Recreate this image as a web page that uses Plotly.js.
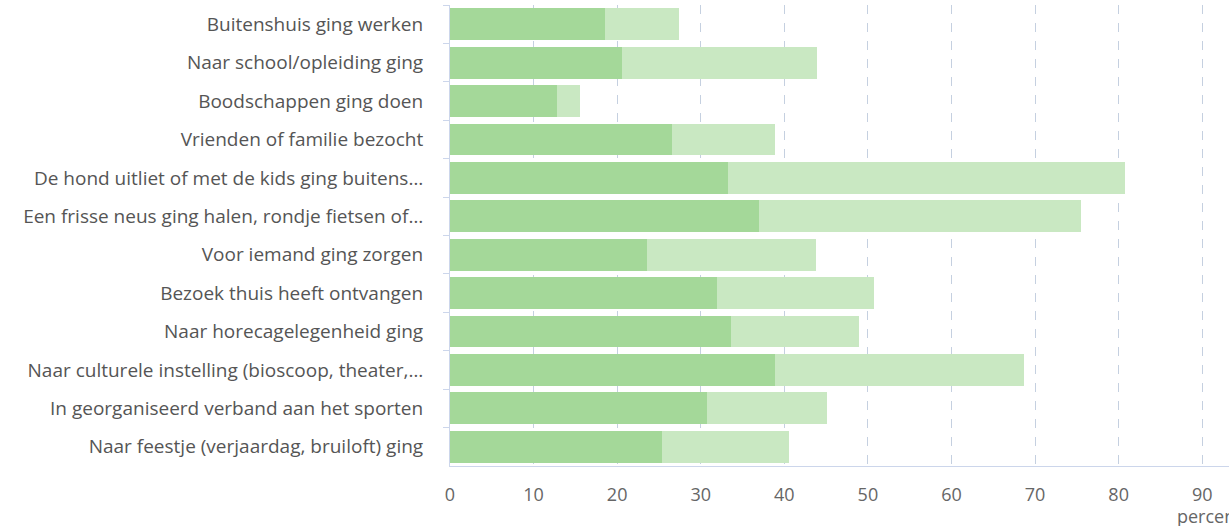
<!DOCTYPE html>
<html>
<head>
<meta charset="utf-8">
<script src="https://cdn.plot.ly/plotly-3.0.1.min.js"></script>
<style>html,body{margin:0;padding:0;background:#fff;}#chart{width:1229px;height:526px;}</style>
</head>
<body>
<div id="chart"></div>
<script>
const categories = [
  "Buitenshuis ging werken",
  "Naar school/opleiding ging",
  "Boodschappen ging doen",
  "Vrienden of familie bezocht",
  "De hond uitliet of met de kids ging buitens…",
  "Een frisse neus ging halen, rondje fietsen of…",
  "Voor iemand ging zorgen",
  "Bezoek thuis heeft ontvangen",
  "Naar horecagelegenheid ging",
  "Naar culturele instelling (bioscoop, theater,…",
  "In georganiseerd verband aan het sporten",
  "Naar feestje (verjaardag, bruiloft) ging"
];
const seriesDark = [18.6, 20.6, 12.8, 26.6, 33.2, 37.0, 23.6, 32.0, 33.6, 38.9, 30.8, 25.4];
const seriesLight = [8.8, 23.3, 2.8, 12.3, 47.5, 38.5, 20.2, 18.7, 15.3, 29.8, 14.3, 15.1];
const xTicks = [0, 10, 20, 30, 40, 50, 60, 70, 80, 90];

const fontFam = '"Open Sans", "DejaVu Sans", sans-serif';

const traces = [
  {type: 'bar', orientation: 'h', y: categories, x: seriesDark, marker: {color: '#a4d899'}, hoverinfo: 'x+y', name: 'a'},
  {type: 'bar', orientation: 'h', y: categories, x: seriesLight, marker: {color: '#c9e8c2'}, hoverinfo: 'x+y', name: 'b'}
];

const layout = {
  width: 1229, height: 526,
  margin: {l: 450, r: 0, t: 5, b: 60, pad: 0},
  barmode: 'stack',
  bargap: 0.17,
  showlegend: false,
  paper_bgcolor: '#fff',
  plot_bgcolor: '#fff',
  font: {family: fontFam, color: '#666666', size: 18},
  xaxis: {
    range: [0, 93.2],
    tickvals: xTicks,
    ticktext: xTicks.map(String),
    showgrid: true,
    gridcolor: '#c5d0e0',
    griddash: 'dash',
    gridwidth: 1,
    zeroline: false,
    showline: true,
    linecolor: '#ccd6eb',
    linewidth: 1,
    ticks: '',
    ticklabelstandoff: 12,
    tickfont: {size: 18, color: '#666666', family: fontFam},
    fixedrange: true
  },
  yaxis: {
    type: 'category',
    autorange: 'reversed',
    showgrid: false,
    zeroline: false,
    showline: true,
    linecolor: '#ccd6eb',
    linewidth: 1,
    ticks: 'outside',
    tickson: 'boundaries',
    ticklen: 6,
    tickcolor: '#ccd6eb',
    ticklabelstandoff: 22,
    tickfont: {size: 19, color: '#555555', family: fontFam},
    fixedrange: true
  },
  annotations: [{
    text: 'percentage', xref: 'paper', yref: 'paper', x: 0.9307, y: 0, yshift: -36,
    xanchor: 'left', yanchor: 'top', showarrow: false,
    font: {size: 18, color: '#666666', family: fontFam}
  }]
};

Plotly.newPlot('chart', traces, layout, {displayModeBar: false, staticPlot: true});
</script>
</body>
</html>
